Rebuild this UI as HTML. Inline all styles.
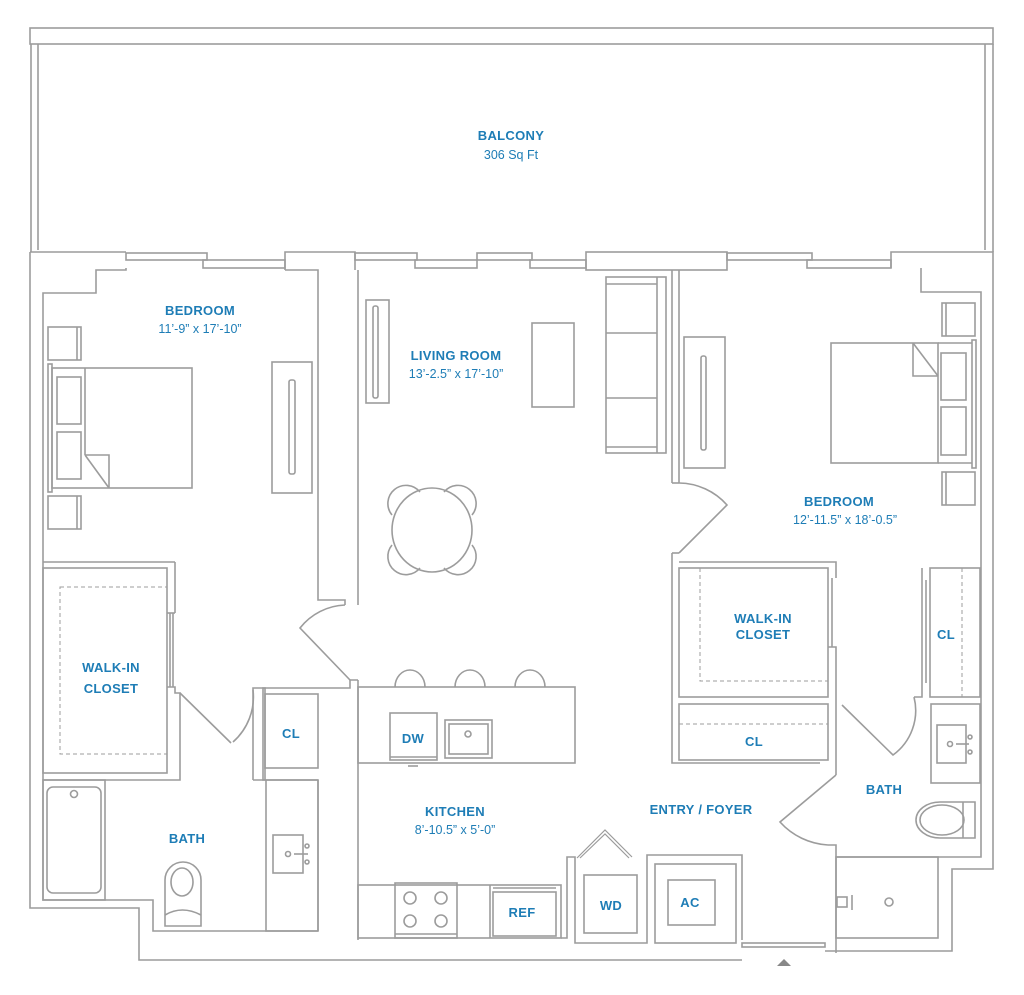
<!DOCTYPE html>
<html><head><meta charset="utf-8"><style>
html,body{margin:0;padding:0;background:#fff;}
svg{display:block;}
text{font-family:"Liberation Sans",sans-serif;fill:#1e7db6;text-anchor:middle;}
.n{font-size:13px;font-weight:bold;letter-spacing:0.3px;}
.d{font-size:12.5px;}
</style></head><body>
<svg width="1024" height="995" viewBox="0 0 1024 995" xmlns="http://www.w3.org/2000/svg">
<g fill="none" stroke="#9c9c9c" stroke-width="1.6">
<!-- balcony -->
<rect x="30" y="28" width="963" height="16"/>
<line x1="31" y1="44" x2="31" y2="252"/><line x1="38" y1="44" x2="38" y2="250"/>
<line x1="985" y1="44" x2="985" y2="250"/><line x1="993" y1="44" x2="993" y2="252"/>
<!-- top wall & windows -->
<line x1="30" y1="252" x2="126" y2="252"/>
<rect x="126" y="253" width="81" height="7"/><rect x="203" y="260" width="82" height="8"/>
<polyline points="285,270 285,252 355,252 355,270"/>
<rect x="355" y="253" width="62" height="7"/><rect x="415" y="260" width="62" height="8"/>
<rect x="477" y="253" width="55" height="7"/><rect x="530" y="260" width="56" height="8"/>
<rect x="586" y="252" width="141" height="18"/>
<rect x="727" y="253" width="85" height="7"/><rect x="807" y="260" width="84" height="8"/>
<polyline points="891,268 891,252 993,252 993,869 952,869 952,951 825,951"/>
<!-- left outer -->
<polyline points="30,252 30,908 139,908 139,960 742,960"/>
<!-- left bedroom -->
<polyline points="126,268 126,270 96,270 96,293 43,293 43,900 153,900 153,931 318,931"/>
<polyline points="285,270 318,270 318,600 345,600 345,605"/>
<line x1="43" y1="562" x2="175" y2="562"/>
<rect x="43" y="568" width="124" height="205"/>
<rect x="60" y="587" width="107" height="167" stroke-dasharray="4 3" stroke-width="1"/>
<polyline points="175,562 175,613"/><polyline points="167,613 175,613"/>
<line x1="170" y1="613" x2="170" y2="687"/><line x1="173" y1="613" x2="173" y2="687"/>
<polyline points="167,687 175,687 175,693 180,693 180,780 43,780"/>
<path d="M180,693 L231,743 M233,742 A60,60 0 0 0 253,690"/>
<!-- bed left -->
<rect x="48" y="327" width="33" height="33"/><line x1="77" y1="327" x2="77" y2="360"/>
<rect x="48" y="496" width="33" height="33"/><line x1="77" y1="496" x2="77" y2="529"/>
<rect x="48" y="364" width="4" height="128"/>
<rect x="52" y="368" width="140" height="120"/>
<line x1="85" y1="368" x2="85" y2="455"/>
<rect x="57" y="377" width="24" height="47"/><rect x="57" y="432" width="24" height="47"/>
<polyline points="85,455 109,455 109,488"/><line x1="85" y1="455" x2="109" y2="488"/>
<rect x="272" y="362" width="40" height="131"/><rect x="289" y="380" width="6" height="94" rx="2"/>
<!-- left bath -->
<rect x="43" y="780" width="62" height="120"/><rect x="47" y="787" width="54" height="106" rx="6"/>
<circle cx="74" cy="794" r="3.5"/>
<path d="M165,926 L165,880 A18,18 0 0 1 201,880 L201,926 Z"/><ellipse cx="182" cy="882" rx="11" ry="14"/><path d="M165,915 Q182,905 201,915"/>
<polyline points="253,780 253,688 350,688 350,680 358,680"/>
<rect x="263" y="688" width="2" height="92"/>
<rect x="265" y="694" width="53" height="74"/>
<rect x="266" y="780" width="52" height="151"/>
<line x1="253" y1="780" x2="318" y2="780"/>
<rect x="273" y="835" width="30" height="38"/><circle cx="288" cy="854" r="2.5"/><line x1="294" y1="854" x2="308" y2="854"/><circle cx="307" cy="846" r="2"/><circle cx="307" cy="862" r="2"/>
<line x1="318" y1="780" x2="318" y2="931"/>
<!-- living -->
<polyline points="358,270 358,605"/><line x1="358" y1="680" x2="358" y2="940"/>
<path d="M350,680 L300,628 A60,60 0 0 1 345,605"/>
<rect x="366" y="300" width="23" height="103"/><rect x="373" y="306" width="5" height="92" rx="2"/>
<rect x="532" y="323" width="42" height="84"/>
<rect x="606" y="277" width="60" height="176"/><line x1="657" y1="277" x2="657" y2="453"/>
<line x1="606" y1="284" x2="657" y2="284"/><line x1="606" y1="447" x2="657" y2="447"/>
<line x1="606" y1="333" x2="657" y2="333"/><line x1="606" y1="398" x2="657" y2="398"/>
<ellipse cx="432" cy="530" rx="40" ry="42"/>
<path d="M392,515 A15,15 0 1 1 420,492"/><path d="M444,492 A15,15 0 1 1 472,515"/>
<path d="M392,545 A15,15 0 1 0 420,568"/><path d="M444,568 A15,15 0 1 0 472,545"/>
<!-- kitchen -->
<rect x="358" y="687" width="217" height="76"/>
<path d="M395,687 A15,17 0 0 1 425,687 M455,687 A15,17 0 0 1 485,687 M515,687 A15,17 0 0 1 545,687"/>
<rect x="390" y="713" width="47" height="47"/><line x1="390" y1="757" x2="437" y2="757"/><line x1="408" y1="766" x2="418" y2="766"/>
<rect x="445" y="720" width="47" height="38"/><rect x="449" y="724" width="39" height="30"/><circle cx="468" cy="734" r="3"/>
<rect x="358" y="885" width="203" height="53"/>
<rect x="395" y="883" width="62" height="55"/><line x1="395" y1="934" x2="457" y2="934"/>
<circle cx="410" cy="898" r="6"/><circle cx="441" cy="898" r="6"/><circle cx="410" cy="921" r="6"/><circle cx="441" cy="921" r="6"/>
<line x1="490" y1="885" x2="490" y2="938"/><rect x="493" y="892" width="63" height="44"/>
<line x1="493" y1="888" x2="556" y2="888"/>
<polyline points="561,938 567,938 567,857 575,857 575,943 647,943 647,855 742,855 742,940"/>
<path d="M577,858 L605,830 L632,857 M580,858 L605,834 L629,858" stroke-width="1.2"/>
<rect x="584" y="875" width="53" height="58"/>
<rect x="655" y="864" width="81" height="79"/><rect x="668" y="880" width="47" height="45"/>
<rect x="742" y="943" width="83" height="4"/>
<!-- right bedroom -->
<polyline points="921,268 921,292 981,292 981,857 836,857"/>
<line x1="672" y1="270" x2="672" y2="483"/><line x1="679" y1="270" x2="679" y2="483"/>
<line x1="672" y1="483" x2="679" y2="483"/>
<path d="M679,483 A65,65 0 0 1 727,505 L679,553"/>
<polyline points="672,553 672,763 692,763"/><line x1="672" y1="553" x2="679" y2="553"/>
<rect x="684" y="337" width="41" height="131"/><rect x="701" y="356" width="5" height="94" rx="2"/>
<rect x="831" y="343" width="107" height="120"/>
<polyline points="913,343 913,376 938,376"/><line x1="913" y1="343" x2="938" y2="376"/>
<rect x="941" y="353" width="25" height="47"/><rect x="941" y="407" width="25" height="48"/>
<line x1="938" y1="463" x2="972" y2="463"/><line x1="938" y1="343" x2="972" y2="343"/>
<rect x="972" y="340" width="4" height="128"/>
<rect x="942" y="303" width="33" height="33"/><line x1="946" y1="303" x2="946" y2="336"/>
<rect x="942" y="472" width="33" height="33"/><line x1="946" y1="472" x2="946" y2="505"/>
<!-- right walk-in -->
<polyline points="679,562 836,562 836,578"/>
<rect x="679" y="568" width="149" height="129"/>
<polyline points="700,568 700,681 828,681" stroke-dasharray="4 3" stroke-width="1"/>
<line x1="832" y1="578" x2="832" y2="647"/>
<polyline points="828,647 836,647 836,775"/>
<rect x="679" y="704" width="149" height="56"/>
<line x1="679" y1="724" x2="828" y2="724" stroke-dasharray="4 3" stroke-width="1"/>
<line x1="692" y1="763" x2="820" y2="763"/>
<path d="M836,775 L780,822 A70,70 0 0 0 828,845"/>
<polyline points="828,845 836,845 836,953"/>
<!-- right bath -->
<path d="M842,705 L893,755 A55,55 0 0 0 914,697"/>
<polyline points="914,697 922,697 922,568"/>
<rect x="930" y="568" width="50" height="129"/>
<line x1="962" y1="568" x2="962" y2="697" stroke-dasharray="4 3" stroke-width="1"/>
<line x1="926" y1="580" x2="926" y2="683"/>
<rect x="931" y="704" width="49" height="79"/><rect x="937" y="725" width="29" height="38"/>
<circle cx="950" cy="744" r="2.5"/><line x1="956" y1="744" x2="969" y2="744"/><circle cx="970" cy="737" r="2"/><circle cx="970" cy="752" r="2"/>
<path d="M975,802 L975,838 L940,838 A24,18 0 0 1 940,802 Z"/><ellipse cx="942" cy="820" rx="22" ry="15"/><line x1="963" y1="802" x2="963" y2="838"/>
<rect x="836" y="857" width="102" height="81"/>
<circle cx="889" cy="902" r="4"/>
<rect x="837" y="897" width="10" height="10"/><line x1="852" y1="895" x2="852" y2="910"/>
</g>
<polygon points="777,966 784,959 791,966" fill="#888"/>
<text class="n" x="511" y="140">BALCONY</text>
<text class="d" x="511" y="159">306 Sq Ft</text>
<text class="n" x="200" y="315">BEDROOM</text>
<text class="d" x="200" y="333">11’-9” x 17’-10”</text>
<text class="n" x="456" y="360">LIVING ROOM</text>
<text class="d" x="456" y="378">13’-2.5” x 17’-10”</text>
<text class="n" x="839" y="506">BEDROOM</text>
<text class="d" x="845" y="524">12’-11.5” x 18’-0.5”</text>
<text class="n" x="111" y="672">WALK-IN</text>
<text class="n" x="111" y="693">CLOSET</text>
<text class="n" x="763" y="623">WALK-IN</text>
<text class="n" x="763" y="639">CLOSET</text>
<text class="n" x="291" y="738">CL</text>
<text class="n" x="946" y="639">CL</text>
<text class="n" x="754" y="746">CL</text>
<text class="n" x="413" y="743">DW</text>
<text class="n" x="187" y="843">BATH</text>
<text class="n" x="884" y="794">BATH</text>
<text class="n" x="455" y="816">KITCHEN</text>
<text class="d" x="455" y="834">8’-10.5” x 5’-0”</text>
<text class="n" x="701" y="814">ENTRY / FOYER</text>
<text class="n" x="522" y="917">REF</text>
<text class="n" x="611" y="910">WD</text>
<text class="n" x="690" y="907">AC</text>
</svg>
</body></html>
